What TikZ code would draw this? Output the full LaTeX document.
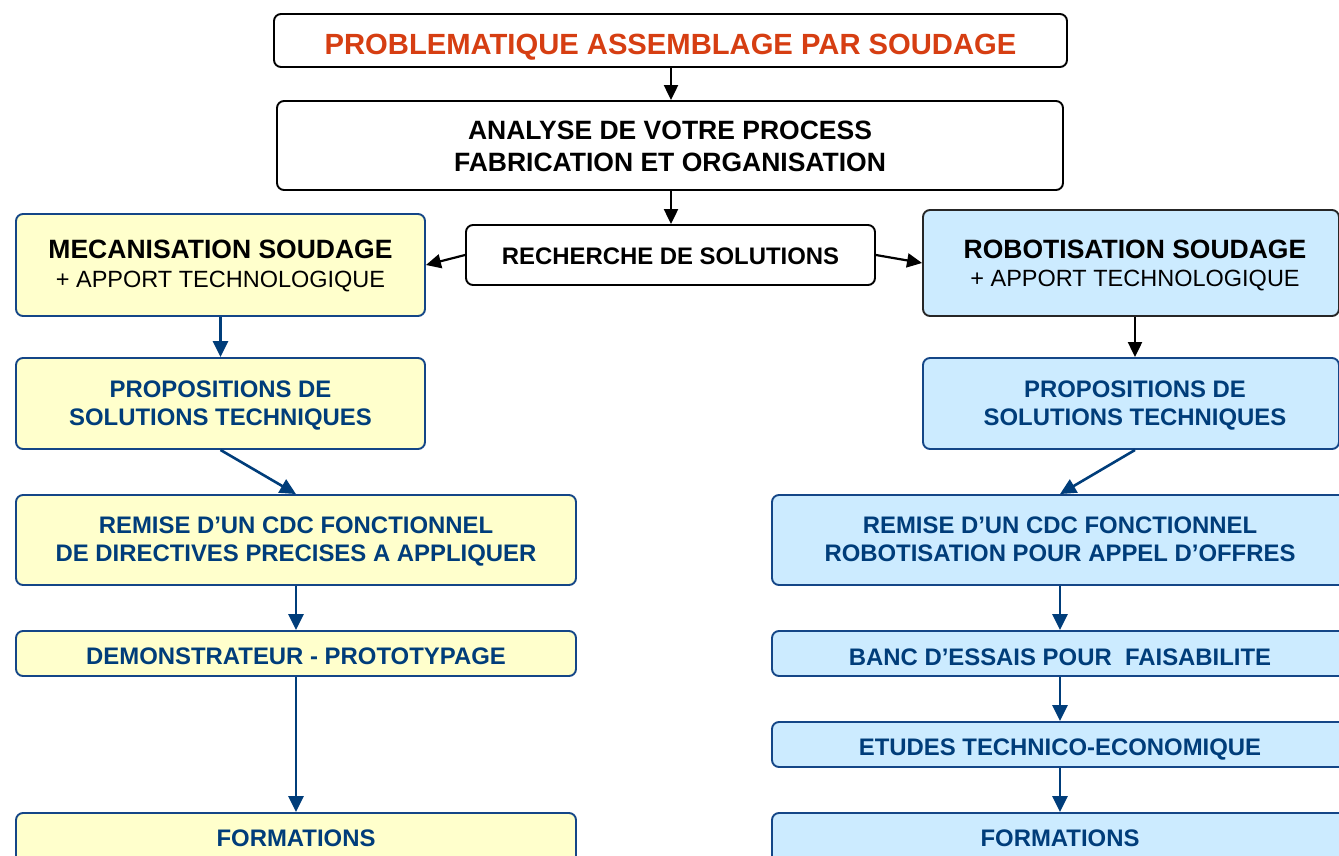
\documentclass[tikz,border=0pt]{standalone}
\usepackage{fontspec}
\setmainfont{Liberation Sans}
\usetikzlibrary{arrows.meta,calc}
\definecolor{titred}{RGB}{214,62,18}
\definecolor{dblue}{RGB}{0,61,122}
\definecolor{bordblue}{RGB}{20,70,135}
\definecolor{yfill}{RGB}{255,255,204}
\definecolor{bfill}{RGB}{204,235,255}
\begin{document}
\begin{tikzpicture}[x=1pt,y=-1pt,
 box/.style={draw, rounded corners=7pt, line width=1.9pt, inner sep=0pt},
 kbox/.style={box, draw=black, fill=white},
 ybox/.style={box, draw=bordblue, fill=yfill},
 bbox/.style={box, draw=bordblue, fill=bfill},
 bboxk/.style={box, draw=black!85, fill=bfill},
 ttitle/.style={inner sep=0pt, font=\fontsize{29.2}{34}\selectfont\bfseries, text=titred, text height=20.9pt, text depth=0pt},
 thead/.style={inner sep=0pt, font=\fontsize{26.5}{31}\selectfont\bfseries, text height=19pt, text depth=0pt},
 tsub/.style={inner sep=0pt, font=\fontsize{23.5}{28}\selectfont, text height=16.8pt, text depth=0pt},
 tk/.style={inner sep=0pt, font=\fontsize{23.9}{28}\selectfont\bfseries, text height=17.1pt, text depth=0pt},
 tb/.style={tk, text=dblue},
 karr/.style={line width=2.2pt, color=black, -{Triangle[length=15pt,width=14pt]}},
 barr/.style={line width=2.6pt, color=dblue, -{Triangle[length=16pt,width=15pt]}},
]
\useasboundingbox (0,0) rectangle (1339,855);

% boxes
\node[kbox, minimum width=793pt, minimum height=53pt] (top) at (670.5,40.5) {};
\node[kbox, minimum width=786pt, minimum height=89pt] (ana) at (670,145.5) {};
\node[kbox, minimum width=409pt, minimum height=60pt] (rech) at (670.5,255) {};
\node[ybox, minimum width=409pt, minimum height=102pt] (meca) at (220.5,265) {};
\node[bboxk, minimum width=416pt, minimum height=106pt] (robo) at (1131,263) {};
\node[ybox, minimum width=409pt, minimum height=91pt] (lprop) at (220.5,403.5) {};
\node[bbox, minimum width=416pt, minimum height=91pt] (rprop) at (1131,403.5) {};
\node[ybox, minimum width=560pt, minimum height=90pt] (lrem) at (296,540) {};
\node[bbox, minimum width=576pt, minimum height=90pt] (rrem) at (1060,540) {};
\node[ybox, minimum width=560pt, minimum height=45pt] (ldemo) at (296,653.5) {};
\node[bbox, minimum width=576pt, minimum height=45pt] (rbanc) at (1060,653.5) {};
\node[bbox, minimum width=576pt, minimum height=45pt] (retu) at (1060,744.5) {};
\node[ybox, minimum width=560pt, minimum height=60pt] (lform) at (296,843) {};
\node[bbox, minimum width=576pt, minimum height=60pt] (rform) at (1060,843) {};

% texts
\node[ttitle] (t1) at (670.5,44) {PROBLEMATIQUE ASSEMBLAGE PAR SOUDAGE};
\node[thead] (t2a) at (670,130) {ANALYSE DE VOTRE PROCESS};
\node[thead] (t2b) at (670,162) {FABRICATION ET ORGANISATION};
\node[tk] (t3) at (670.5,256) {RECHERCHE DE SOLUTIONS};
\node[thead] (t4a) at (220.5,249) {MECANISATION SOUDAGE};
\node[tsub] (t4b) at (220.5,279) {+ APPORT TECHNOLOGIQUE};
\node[thead] (t5a) at (1135,249) {ROBOTISATION SOUDAGE};
\node[tsub] (t5b) at (1135,278) {+ APPORT TECHNOLOGIQUE};
\node[tb] (t6a) at (220.5,389) {PROPOSITIONS DE};
\node[tb] (t6b) at (220.5,417) {SOLUTIONS TECHNIQUES};
\node[tb] (t7a) at (1135,389) {PROPOSITIONS DE};
\node[tb] (t7b) at (1135,417) {SOLUTIONS TECHNIQUES};
\node[tb] (t8a) at (296,525) {REMISE D’UN CDC FONCTIONNEL};
\node[tb] (t8b) at (296,553) {DE DIRECTIVES PRECISES A APPLIQUER};
\node[tb] (t9a) at (1060,525) {REMISE D’UN CDC FONCTIONNEL};
\node[tb] (t9b) at (1060,553) {ROBOTISATION POUR APPEL D’OFFRES};
\node[tb] (t10) at (296,656) {DEMONSTRATEUR - PROTOTYPAGE};
\node[tb] (t11) at (1060,657) {BANC D’ESSAIS POUR\ \ FAISABILITE};
\node[tb] (t12) at (1060,747) {ETUDES TECHNICO-ECONOMIQUE};
\node[tb] (t13) at (296,838) {FORMATIONS};
\node[tb] (t14) at (1060,838) {FORMATIONS};

% connectors
\coordinate (rc) at (1135,0);
\coordinate (mc) at (671,0);
\draw[karr] (top.south -| mc) -- (ana.north -| mc);
\draw[karr] (ana.south -| mc) -- (rech.north -| mc);
\draw[karr] (rech.west) -- (meca.east);
\draw[karr] (rech.east) -- (robo.west);
\draw[karr] (robo.south -| rc) -- (rprop.north -| rc);
\draw[barr] (meca.south) -- (lprop.north);
\draw[barr] (lprop.south) -- (lrem.north);
\draw[barr] (rprop.south -| rc) -- (rrem.north);
\draw[barr] (lrem.south) -- (ldemo.north);
\draw[barr] (ldemo.south) -- (lform.north);
\draw[barr] (rrem.south) -- (rbanc.north);
\draw[barr] (rbanc.south) -- (retu.north);
\draw[barr] (retu.south) -- (rform.north);
\end{tikzpicture}
\end{document}
